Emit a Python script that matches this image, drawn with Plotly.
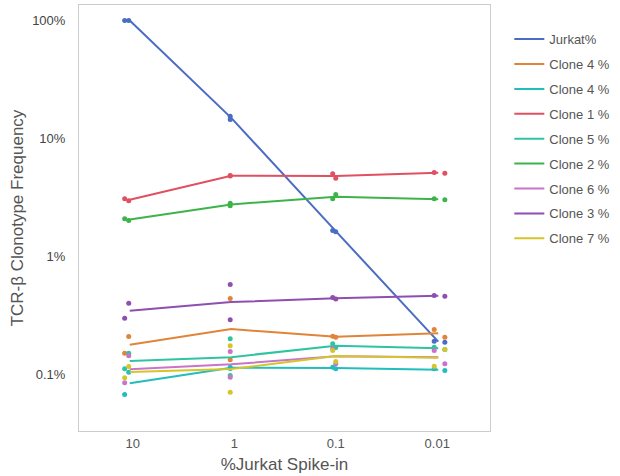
import numpy as np
import plotly.graph_objects as go

# ---- data ----
categories = ["10", "1", "0.1", "0.01"]
series_names = ["Jurkat%", "Clone 4 %", "Clone 4 %", "Clone 1 %", "Clone 5 %",
                "Clone 2 %", "Clone 6 %", "Clone 3 %", "Clone 7 %"]

# replicate 1 and replicate 2 frequencies (percent) per category
jurkat_r1 = [100.0, 15.4, 1.66, 0.1915]
jurkat_r2 = [100.0, 14.5, 1.62, 0.1878]
clone4o_r1 = [0.1515, 0.441, 0.2113, 0.2406]
clone4o_r2 = [0.210, 0.1332, 0.2071, 0.2071]
clone4c_r1 = [0.0677, 0.1153, 0.1153, 0.1117]
clone4c_r2 = [0.1046, 0.1125, 0.1117, 0.1081]
clone1_r1 = [3.08, 4.86, 5.02, 5.15]
clone1_r2 = [2.97, 4.80, 4.61, 5.08]
clone5_r1 = [0.1117, 0.2006, 0.1820, 0.1703]
clone5_r2 = [0.1515, 0.0981, 0.1693, 0.1629]
clone2_r1 = [2.09, 2.83, 3.08, 3.08]
clone2_r2 = [2.02, 2.69, 3.35, 3.03]
clone6_r1 = [0.0851, 0.1566, 0.1651, 0.1597]
clone6_r2 = [0.1440, 0.0949, 0.1232, 0.1232]
clone3_r1 = [0.300, 0.579, 0.450, 0.467]
clone3_r2 = [0.402, 0.291, 0.437, 0.461]
clone7_r1 = [0.0938, 0.1751, 0.1597, 0.1176]
clone7_r2 = [0.1169, 0.0708, 0.1289, 0.1629]

y_tickvals = [0.1, 1, 10, 100]
y_ticktext = ["0.1%", "1%", "10%", "100%"]

# ---- styles ----
colors = ["#4a6cc3", "#e0843a", "#22bdbd", "#e05060", "#2ec4a0",
          "#3cb44a", "#c874c8", "#8e4fb0", "#d4c62a"]
rep1_data = [jurkat_r1, clone4o_r1, clone4c_r1, clone1_r1, clone5_r1,
             clone2_r1, clone6_r1, clone3_r1, clone7_r1]
rep2_data = [jurkat_r2, clone4o_r2, clone4c_r2, clone1_r2, clone5_r2,
             clone2_r2, clone6_r2, clone3_r2, clone7_r2]

# horizontal jitter of replicate dots and line points (axis units)
jit1 = np.array([-0.08, -0.04, -0.03, -0.03])
jit2 = np.array([-0.04, -0.04, 0.0, 0.075])
jit_line = np.array([-0.03, -0.03, 0.0, 0.01])
xpos = np.arange(len(categories))

fig = go.Figure()
for i, name in enumerate(series_names):
    r1 = np.array(rep1_data[i])
    r2 = np.array(rep2_data[i])
    line_vals = np.sqrt(r1 * r2)
    fig.add_trace(go.Scatter(
        x=np.concatenate([xpos + jit1, xpos + jit2]),
        y=np.concatenate([r1, r2]),
        mode="markers", marker=dict(size=5, color=colors[i]),
        showlegend=False, hoverinfo="skip", legendgroup=f"g{i}"))
    fig.add_trace(go.Scatter(
        x=xpos + jit_line, y=line_vals, mode="lines", name=name,
        line=dict(color=colors[i], width=2), legendgroup=f"g{i}"))

gray = "#555555"
fig.update_layout(
    width=620, height=476,
    margin=dict(l=79, r=127, t=5, b=45),
    paper_bgcolor="white", plot_bgcolor="white",
    font=dict(family="Liberation Sans, Arial, sans-serif", color=gray, size=13),
    legend=dict(x=1.047, y=0.955, xanchor="left", yanchor="top",
                font=dict(size=13, color=gray), tracegroupgap=5,
                itemwidth=30, bgcolor="rgba(0,0,0,0)"),
    xaxis=dict(range=[-0.53, 3.52], tickvals=list(xpos), ticktext=categories,
               showgrid=False, zeroline=False, showline=True, mirror=True,
               linecolor="#cccccc", linewidth=1, ticks="",
               tickfont=dict(size=13, color=gray),
               title=dict(text="%Jurkat Spike-in", font=dict(size=17, color=gray),
                          standoff=8)),
    yaxis=dict(type="log", range=[-1.479, 2.131], tickvals=y_tickvals,
               ticktext=y_ticktext, showgrid=False, zeroline=False,
               showline=True, mirror=True, linecolor="#cccccc", linewidth=1,
               ticks="", ticklabelstandoff=10,
               tickfont=dict(size=13, color="#444444"),
               title=dict(text="TCR-β Clonotype Frequency",
                          font=dict(size=17, color=gray), standoff=4)),
)

fig.write_html("out.html", config={"displayModeBar": False},
               post_script="document.body.style.margin='0';")
